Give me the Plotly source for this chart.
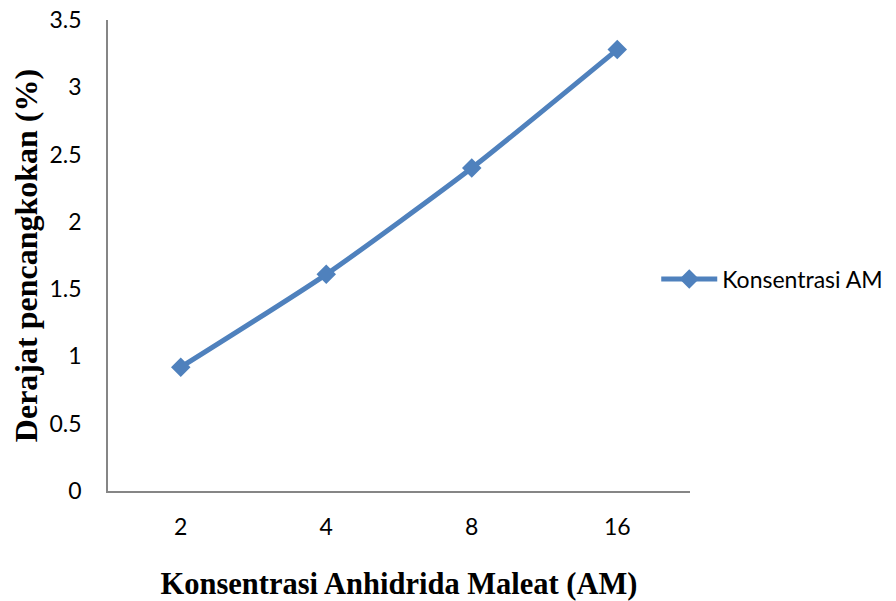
import plotly.graph_objects as go

categories = ["2", "4", "8", "16"]
values = [0.92, 1.61, 2.40, 3.28]
series_name = "Konsentrasi AM"
y_ticks = [0, 0.5, 1, 1.5, 2, 2.5, 3, 3.5]
y_tick_labels = ["0", "0.5", "1", "1.5", "2", "2.5", "3", "3.5"]

blue = "#4F81BD"
axis_gray = "#868686"
tick_font = dict(family="Lato, Open Sans, sans-serif", size=23, color="#000000")
legend_font = dict(family="Lato, Open Sans, sans-serif", size=23, color="#000000")
xtitle_font = dict(family="Liberation Serif, Times New Roman, serif", size=30.5, color="#000000")
ytitle_font = dict(family="Liberation Serif, Times New Roman, serif", size=32, color="#000000")

fig = go.Figure()
fig.add_trace(go.Scatter(
    x=categories, y=values, name=series_name,
    mode="lines+markers",
    line=dict(color=blue, width=5, shape="spline", smoothing=0.6),
    marker=dict(symbol="diamond", size=15, color=blue),
    showlegend=True,
))

fig.update_layout(
    width=888, height=593,
    margin=dict(l=100, r=206, t=12, b=110, autoexpand=False),
    paper_bgcolor="white", plot_bgcolor="white",
    showlegend=True,
    legend=dict(x=0.942, y=0.45, xanchor="left", yanchor="middle",
                font=legend_font, itemwidth=56, bgcolor="rgba(0,0,0,0)"),
    xaxis=dict(type="category", range=[-0.5, 3.5], showgrid=False, automargin=False,
               showline=True, linecolor=axis_gray, linewidth=1.5,
               ticks="", tickfont=tick_font, ticklabelstandoff=15,
               ticklabeloverflow="allow",
               title=dict(text="<b>Konsentrasi Anhidrida Maleat (AM)</b>",
                          font=xtitle_font, standoff=36),
               zeroline=False),
    yaxis=dict(range=[0, 3.5], tickvals=y_ticks, ticktext=y_tick_labels,
               showgrid=False, showline=True, linecolor=axis_gray, linewidth=1.5,
               automargin=False, ticklabeloverflow="allow",
               ticks="", tickfont=tick_font, ticklabelstandoff=20,
               title=dict(text="<b>Derajat pencangkokan (%)</b>",
                          font=ytitle_font, standoff=2),
               zeroline=False),
)

fig.write_html("out.html")
